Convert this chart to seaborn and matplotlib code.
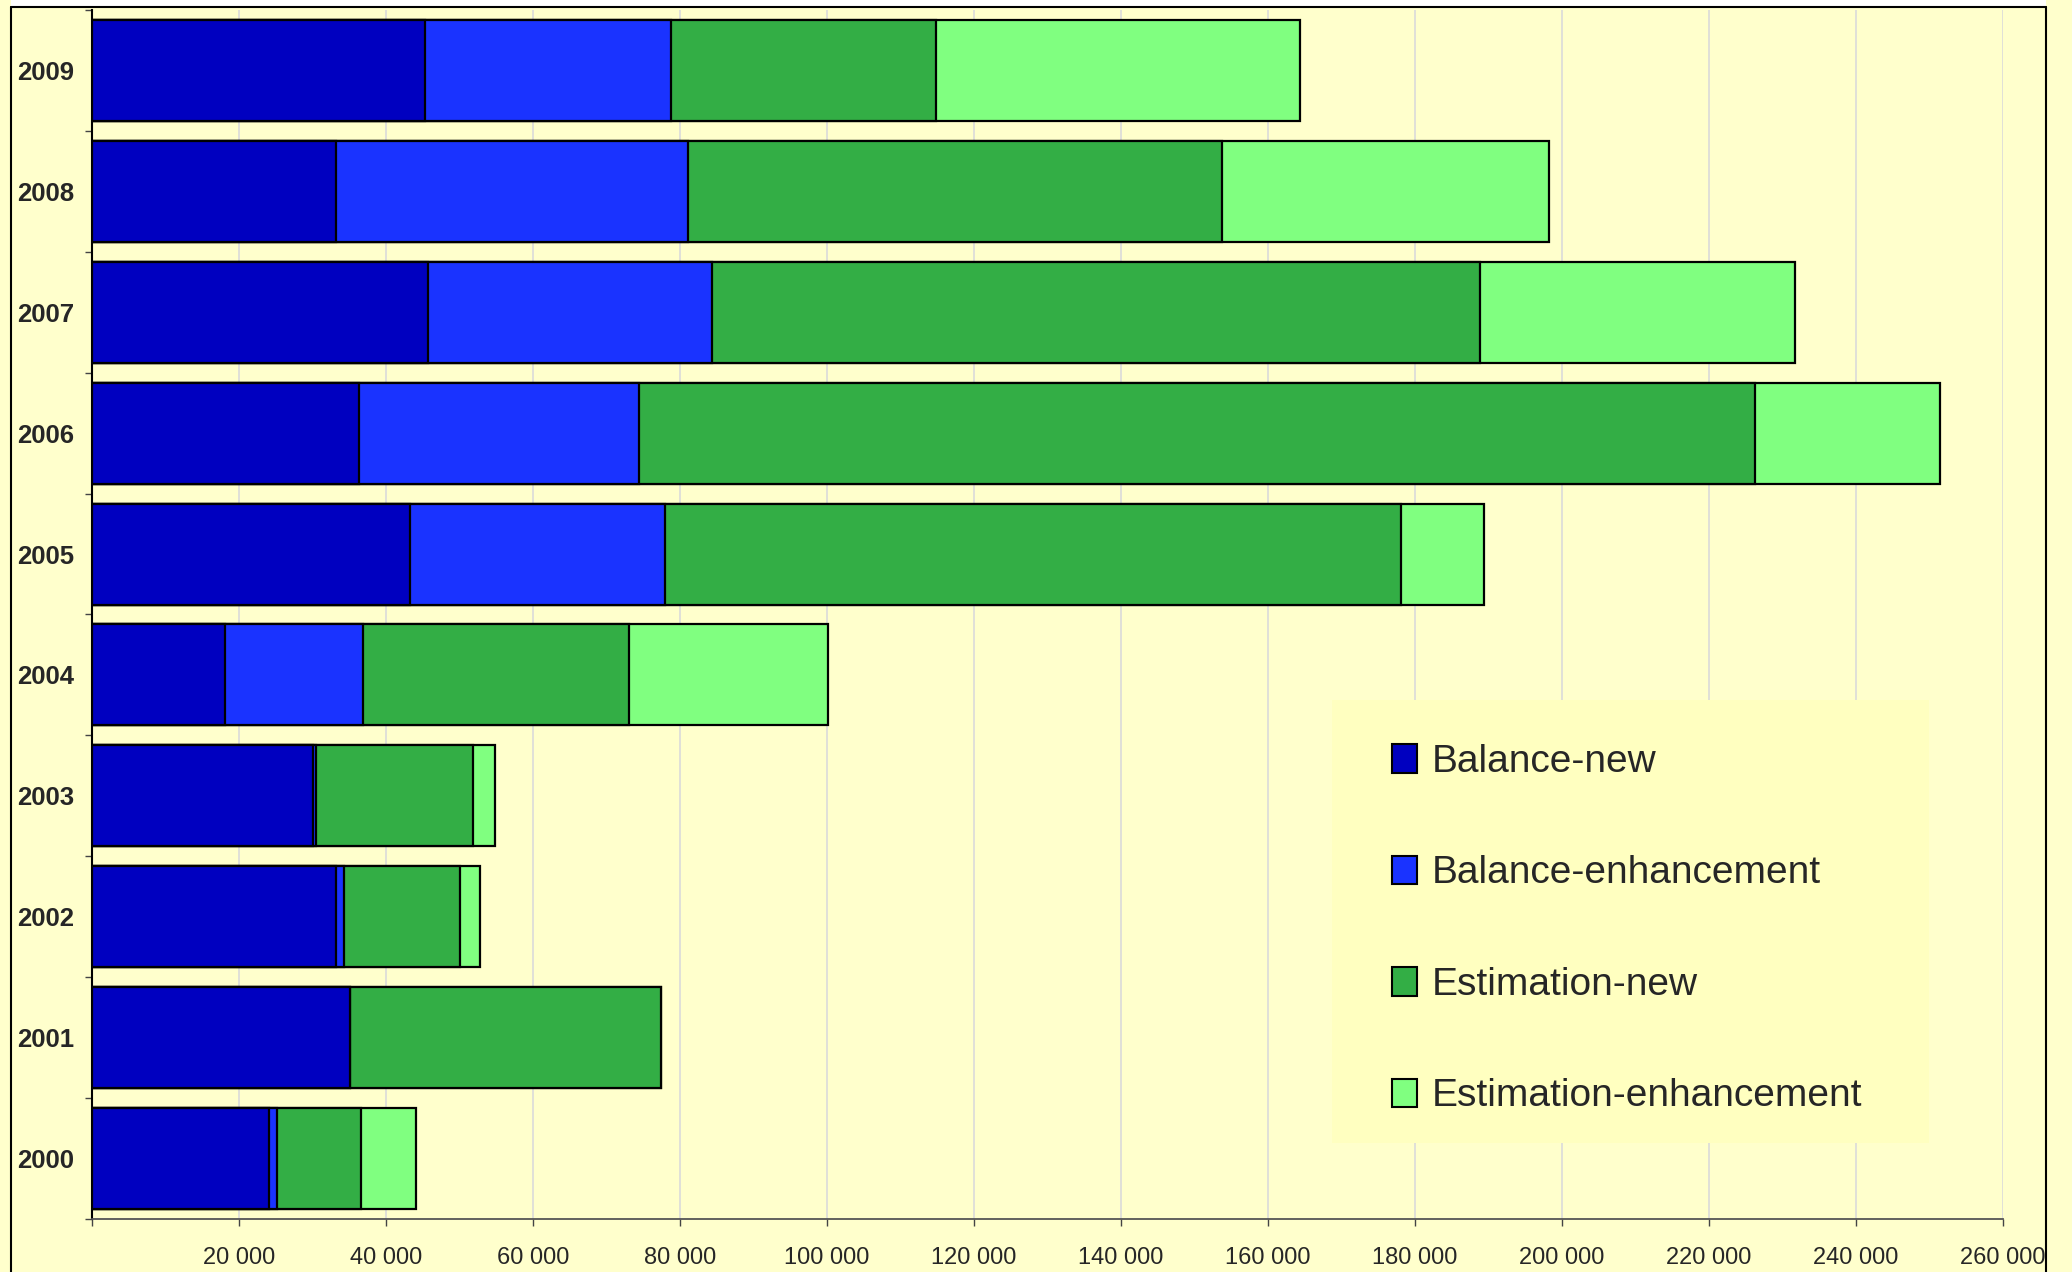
import matplotlib
matplotlib.use("Agg")
import matplotlib.pyplot as plt
import seaborn as sns
import numpy as np
from matplotlib.lines import Line2D
from matplotlib.patches import Rectangle
from matplotlib.ticker import FuncFormatter, MultipleLocator, FixedLocator

years = ["2000", "2001", "2002", "2003", "2004", "2005", "2006", "2007", "2008", "2009"]
series = ["Balance-new", "Balance-enhancement", "Estimation-new", "Estimation-enhancement"]
balance_new = [24100, 35100, 33100, 30100, 18000, 43200, 36300, 45700, 33100, 45300]
balance_enh = [1100, 0, 1100, 300, 18900, 34700, 38100, 38700, 48000, 33500]
estimation_new = [11400, 42300, 15900, 21400, 36200, 100200, 151900, 104500, 72700, 36000]
estimation_enh = [7500, 0, 2600, 3000, 27000, 11300, 25200, 42800, 44400, 49500]
colors = ["#0000C0", "#1A33FF", "#33AE45", "#80FF80"]

BG = "#FFFFCC"
W, H = 2072, 1272

sns.set_style("ticks")
plt.rcParams["font.family"] = ["Liberation Sans", "DejaVu Sans"]

fig = plt.figure(figsize=(W / 100, H / 100), dpi=100, facecolor=BG)
ax = fig.add_axes([92.3 / W, 53 / H, (2002.7 - 92.3) / W, (1219 - 10) / H])
ax.set_facecolor(BG)

# stacked bars: draw cumulative totals from the largest down
stack = np.cumsum([balance_new, balance_enh, estimation_new, estimation_enh], axis=0)
order = years[::-1]
for i in range(len(series) - 1, -1, -1):
    sns.barplot(x=stack[i], y=years, order=order, orient="h", color=colors[i],
                saturation=1, edgecolor="black", linewidth=1.6, width=0.835,
                errorbar=None, label=series[i], ax=ax, zorder=3)

ax.set_xlim(0, 260000)
ax.set_ylim(len(years) - 0.5, -0.5)
ax.set_xlabel("")
ax.set_ylabel("")

ax.xaxis.set_major_locator(MultipleLocator(20000))
ax.xaxis.set_major_formatter(FuncFormatter(
    lambda v, p: "" if v == 0 else "{:,}".format(int(v)).replace(",", " ")))
ax.tick_params(axis="x", direction="out", length=5, width=1, color="#444444",
               labelsize=17, pad=15)
ax.grid(axis="x", color="#DADADA", linewidth=1.2, zorder=0)
ax.set_axisbelow(True)

ax.yaxis.set_minor_locator(FixedLocator(np.arange(-0.5, len(years), 1.0)))
ax.tick_params(axis="y", which="major", length=0, pad=13, labelsize=18.5)
ax.tick_params(axis="y", which="minor", length=5, width=1, color="#444444")
for lbl in ax.get_yticklabels():
    lbl.set_fontweight("bold")

for s in ["top", "right"]:
    ax.spines[s].set_visible(False)
ax.spines["left"].set_color("black")
ax.spines["left"].set_linewidth(1.5)
ax.spines["bottom"].set_color("#555555")
ax.spines["bottom"].set_linewidth(1.3)

# legend panel
ax.add_patch(Rectangle((1332 / W, 1 - 1143 / H), (1929 - 1332) / W, (1143 - 700) / H,
                       transform=fig.transFigure, facecolor="#FFFFC0",
                       edgecolor="none", zorder=4, clip_on=False))
handles, labels = ax.get_legend_handles_labels()
leg = ax.legend(handles[::-1], labels[::-1], loc="upper left",
                bbox_to_anchor=(1392 / W, 1 - 744 / H), bbox_transform=fig.transFigure,
                frameon=False, fontsize=28, borderpad=0, borderaxespad=0,
                handlelength=0.64, handleheight=0.75, handletextpad=0.38,
                labelspacing=1.94)
leg.set_zorder(5)
for h in leg.legend_handles:
    h.set_edgecolor("black")
    h.set_linewidth(1.5)

# chart frame
fig.add_artist(Rectangle((11 / W, 1 - 7 / H), (2046 - 11) / W, 7 / H,
                         transform=fig.transFigure, facecolor="white", edgecolor="none"))
frame = dict(transform=fig.transFigure, color="black", linewidth=1.5)
fig.add_artist(Line2D([11 / W, 2046 / W], [1 - 7 / H, 1 - 7 / H], **frame))
fig.add_artist(Line2D([11 / W, 11 / W], [0, 1 - 7 / H], **frame))
fig.add_artist(Line2D([2046 / W, 2046 / W], [0, 1 - 7 / H], **frame))

fig.savefig("out.png", dpi=100, facecolor=BG)
